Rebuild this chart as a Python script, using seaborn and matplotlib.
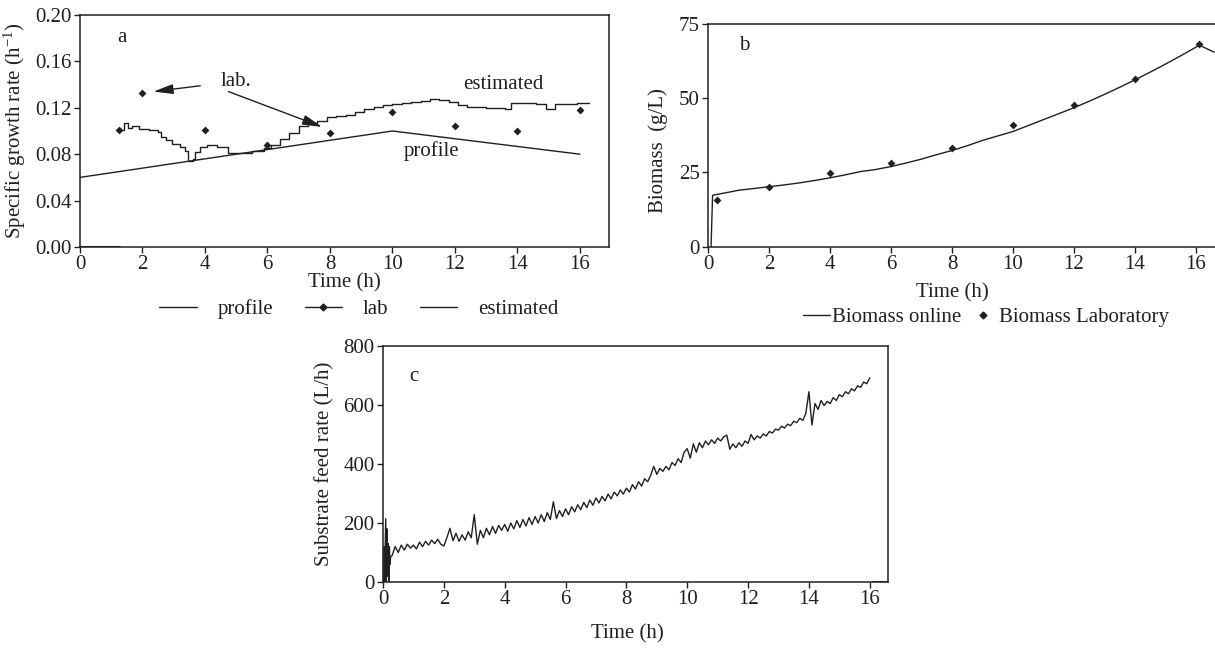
#!/usr/bin/env python3
"""Fed-batch run: growth rate, biomass and substrate feed rate (panels a-c)."""

from __future__ import annotations

import matplotlib
matplotlib.use("Agg")
import matplotlib.pyplot as plt
from matplotlib.lines import Line2D
import numpy as np
import pandas as pd
import seaborn as sns

INK = "#231f20"

# panel a: specific growth rate
profile_time = [0.0, 10.0, 16.0]
profile_rate = [0.060, 0.100, 0.080]

lab_time = [1.25, 2.0, 4.0, 6.0, 8.0, 10.0, 12.0, 14.0, 16.0]
lab_rate = [0.101, 0.133, 0.101, 0.088, 0.098, 0.116, 0.104, 0.100, 0.118]

est_time = [1.25, 1.42, 1.55, 1.68, 1.9, 2.2, 2.5, 2.6, 2.75, 2.95, 3.2, 3.35,
            3.47, 3.62, 3.68, 3.85, 4.05, 4.4, 4.75, 5.1, 5.5, 5.9, 6.1, 6.4,
            6.7, 7.0, 7.3, 7.6, 7.9, 8.2, 8.5, 8.8, 9.1, 9.4, 9.7, 10.0, 10.3,
            10.6, 10.9, 11.2, 11.5, 11.8, 12.1, 12.4, 12.7, 13.0, 13.3, 13.6,
            13.8, 14.2, 14.6, 14.9, 15.2, 15.5, 15.9, 16.3]
est_rate = [0.101, 0.107, 0.103, 0.104, 0.102, 0.101, 0.099, 0.095, 0.092,
            0.089, 0.086, 0.083, 0.074, 0.076, 0.082, 0.086, 0.088, 0.086,
            0.081, 0.081, 0.083, 0.085, 0.088, 0.093, 0.098, 0.104, 0.107,
            0.109, 0.112, 0.113, 0.114, 0.116, 0.119, 0.121, 0.122, 0.123,
            0.124, 0.125, 0.126, 0.128, 0.127, 0.125, 0.122, 0.121, 0.121,
            0.120, 0.120, 0.119, 0.124, 0.124, 0.123, 0.119, 0.123, 0.123,
            0.124, 0.124]
est_zero_time = [0.0, 1.28]
est_zero_rate = [0.0, 0.0]

# panel b: biomass
online_time = [0.1, 0.15, 0.3, 0.6, 1.0, 1.5, 2.0, 2.5, 3.0, 3.5, 4.0, 4.5, 5.0,
               5.5, 6.0, 6.5, 7.0, 7.5, 8.0, 8.5, 9.0, 9.5, 10.0, 10.5, 11.0,
               11.5, 12.0, 12.5, 13.0, 13.5, 14.0, 14.5, 15.0, 15.5, 16.0,
               16.1, 16.6]
online_biomass = [0.0, 17.3, 17.6, 18.2, 19.0, 19.6, 20.2, 20.8, 21.5, 22.3,
                  23.2, 24.2, 25.3, 26.0, 27.0, 28.2, 29.5, 31.0, 32.4, 34.0,
                  35.8, 37.3, 38.8, 40.8, 42.8, 44.8, 46.8, 49.0, 51.3, 53.7,
                  56.2, 58.8, 61.5, 64.3, 67.2, 67.9, 65.5]
lab_bio_time = [0.3, 2.0, 4.0, 6.0, 8.0, 10.0, 12.0, 14.0, 16.1]
lab_biomass = [15.7, 20.2, 24.7, 28.3, 33.3, 40.9, 47.7, 56.4, 68.1]

# panel c: substrate feed rate (start-up spikes, then 0.1 h samples 0.3..16.0 h)
feed_start_time = [0.0, 0.03, 0.05, 0.07, 0.09, 0.11, 0.13, 0.15, 0.17, 0.19,
                   0.21, 0.23, 0.25]
feed_start_rate = [0, 120, 0, 110, 215, 0, 180, 20, 130, 0, 120, 60, 85]
feed_rate = [
    90, 120, 100, 125, 108, 128, 115,
    125, 112, 135, 120, 138, 125, 142, 130, 145, 128,
    122, 150, 182, 140, 165, 138, 160, 142, 170, 150,
    228, 128, 175, 150, 182, 160, 188, 165, 192, 175,
    195, 172, 200, 180, 208, 185, 212, 190, 218, 195,
    222, 200, 228, 205, 235, 212, 272, 215, 242, 222,
    248, 228, 255, 238, 262, 245, 270, 252, 278, 260,
    285, 268, 290, 275, 298, 282, 305, 292, 312, 298,
    318, 305, 330, 315, 340, 325, 350, 340, 362, 392,
    365, 385, 375, 392, 380, 405, 395, 418, 405, 440,
    452, 420, 468, 440, 472, 455, 478, 465, 482, 470,
    488, 478, 492, 498, 450, 468, 455, 472, 460, 478,
    470, 500, 482, 495, 488, 502, 495, 510, 505, 518,
    515, 528, 522, 535, 530, 545, 540, 555, 548, 572,
    645, 532, 605, 585, 615, 598, 612, 605, 625, 615,
    635, 628, 645, 638, 655, 648, 665, 660, 678, 672,
    692,
]
feed_zero_time = [16.1, 16.6]
feed_zero_rate = [0, 0]


def style_axes(ax) -> None:
    for s in ax.spines.values():
        s.set_visible(True)
        s.set_color(INK)
        s.set_linewidth(1.1)
    ax.tick_params(direction="out", length=4, width=1, colors=INK,
                   labelcolor=INK, pad=2)


def panel_a(fig) -> None:
    ax = fig.add_axes([80 / 1215, 1 - 247 / 648, 529 / 1215, 232 / 648])
    sns.lineplot(x=profile_time, y=profile_rate, ax=ax, color=INK, lw=1,
                 estimator=None, sort=False)
    sns.lineplot(x=est_time, y=est_rate, ax=ax, color=INK, lw=1,
                 estimator=None, sort=False, drawstyle="steps-post")
    sns.lineplot(x=est_zero_time, y=est_zero_rate, ax=ax, color=INK, lw=1.5,
                 estimator=None, sort=False)
    sns.scatterplot(x=lab_time, y=lab_rate, ax=ax, color=INK, marker="D",
                    s=16, linewidth=0, zorder=4)
    ax.set_xlim(0, 16.93)
    ax.set_ylim(0, 0.20)
    ax.set_xticks(range(0, 17, 2))
    ax.set_yticks([0, 0.04, 0.08, 0.12, 0.16, 0.20])
    ax.set_yticklabels([f"{v:.2f}" for v in ax.get_yticks()])
    style_axes(ax)
    ax.set_xlabel("Time (h)")
    ax.set_ylabel("Specific growth rate (h$^{-1}$)")
    ax.xaxis.set_label_coords(0.5, -0.115)
    ax.yaxis.set_label_coords(-0.098, 0.5)

    ax.text(1.35, 0.181, "a", ha="center", va="center")
    ax.text(5.0, 0.1425, "lab.", ha="center", va="center")
    ax.text(13.55, 0.140, "estimated", ha="center", va="center")
    ax.text(11.25, 0.0825, "profile", ha="center", va="center")
    arrow = dict(arrowstyle="-|>,head_length=0.8,head_width=0.2", color=INK,
                 lw=1, shrinkA=0, shrinkB=0)
    ax.annotate("", xy=(2.35, 0.134), xytext=(3.85, 0.139), arrowprops=arrow)
    ax.annotate("", xy=(7.75, 0.1035), xytext=(4.75, 0.134), arrowprops=arrow)

    handles = [
        Line2D([], [], color=INK, lw=1),
        Line2D([], [], color=INK, lw=1, marker="D", markersize=3.5),
        Line2D([], [], color=INK, lw=1),
    ]
    fig.legend(handles, ["profile", "lab", "estimated"], loc="center",
               bbox_to_anchor=(359 / 1215, 1 - 309 / 648), ncol=3,
               frameon=False, handlelength=1.8, handletextpad=1.0,
               columnspacing=1.5, borderpad=0)


def panel_b(fig) -> None:
    width = 1239 - 708
    ax = fig.add_axes([708 / 1215, 1 - 246.7 / 648, width / 1215, 222.7 / 648])
    sns.lineplot(x=online_time, y=online_biomass, ax=ax, color=INK, lw=1,
                 estimator=None, sort=False)
    sns.scatterplot(x=lab_bio_time, y=lab_biomass, ax=ax, color=INK,
                    marker="D", s=16, linewidth=0, zorder=4)
    ax.set_xlim(0, width / 30.5)
    ax.set_ylim(0, 75)
    ax.set_xticks(range(0, 17, 2))
    ax.set_yticks([0, 25, 50, 75])
    style_axes(ax)
    ax.set_xlabel("Time (h)")
    ax.set_ylabel("Biomass  (g/L)")
    ax.xaxis.set_label_coords((952 - 708) / width, -0.163)
    ax.yaxis.set_label_coords(-0.075, 0.43)
    ax.text(1.2, 67.9, "b", ha="center", va="center")

    handles = [
        Line2D([], [], color=INK, lw=1),
        Line2D([], [], color=INK, lw=0, marker="D", markersize=3.5),
    ]
    fig.legend(handles, ["Biomass online", "Biomass Laboratory"], loc="center",
               bbox_to_anchor=(986 / 1215, 1 - 317 / 648), ncol=2,
               frameon=False, handlelength=1.3, handletextpad=0.1,
               columnspacing=0.4, borderpad=0)


def panel_c(fig) -> None:
    ax = fig.add_axes([383 / 1215, 1 - 582 / 648, 505 / 1215, 236 / 648])
    feed_time = np.round(0.3 + 0.1 * np.arange(len(feed_rate)), 2)
    df = pd.DataFrame({
        "t": list(feed_start_time) + list(feed_time),
        "q": list(feed_start_rate) + list(feed_rate),
    })
    sns.lineplot(data=df, x="t", y="q", ax=ax, color=INK, lw=1,
                 estimator=None, sort=False)
    sns.lineplot(x=feed_zero_time, y=feed_zero_rate, ax=ax, color=INK, lw=1.5,
                 estimator=None, sort=False)
    ax.set_xlim(0, 16.6)
    ax.set_ylim(0, 800)
    ax.set_xticks(range(0, 17, 2))
    ax.set_yticks(range(0, 801, 200))
    style_axes(ax)
    ax.set_xlabel("Time (h)")
    ax.set_ylabel("Substrate feed rate (L/h)")
    ax.xaxis.set_label_coords(0.483, -0.18)
    ax.yaxis.set_label_coords(-0.097, 0.5)
    ax.text(1.0, 695, "c", ha="center", va="center")


def main() -> None:
    sns.set_theme(style="ticks")
    plt.rcParams["font.family"] = ["Liberation Serif", "DejaVu Serif"]
    for key in ("font.size", "axes.labelsize", "xtick.labelsize",
                "ytick.labelsize", "legend.fontsize"):
        plt.rcParams[key] = 15
    plt.rcParams["text.color"] = INK
    plt.rcParams["axes.labelcolor"] = INK
    plt.rcParams["mathtext.fontset"] = "custom"
    plt.rcParams["mathtext.rm"] = "Liberation Serif"
    plt.rcParams["mathtext.it"] = "Liberation Serif:italic"

    fig = plt.figure(figsize=(12.15, 6.48), dpi=100)
    panel_a(fig)
    panel_b(fig)
    panel_c(fig)
    fig.savefig("out.png", dpi=100, facecolor="white")
    plt.close(fig)


if __name__ == "__main__":
    main()
